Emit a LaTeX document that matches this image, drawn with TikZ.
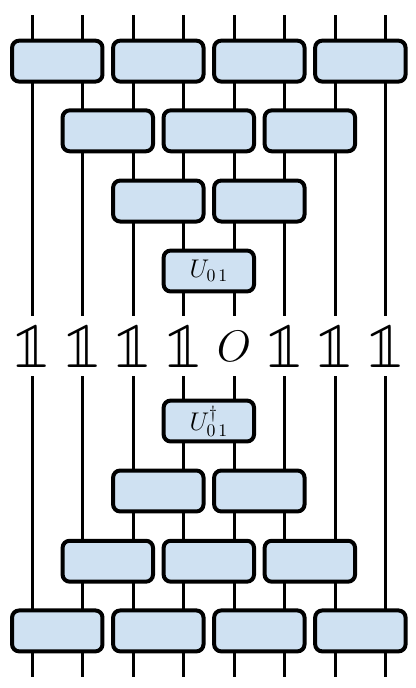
\documentclass[tikz,border=0pt]{standalone}
\usepackage{fontspec}
\newfontfamily\lmmath{latinmodern-math.otf}
\definecolor{gatefill}{RGB}{207,225,242}
\newcommand{\idop}{\mbox{\fontsize{37}{40}\lmmath 𝟙}}

\begin{document}
\begin{tikzpicture}
[-,line width=1.7pt,%
  gate/.style={shape=rectangle,rounded corners=0.14cm,draw,line width=2.25pt,%
    fill=gatefill,minimum width=1.79cm,minimum height=0.81cm,inner sep=0pt,%
    font=\fontsize{14.5}{17}\selectfont},%
  op/.style={inner sep=0pt,minimum height=1.14cm,font=\fontsize{26}{30}\selectfont}]
\useasboundingbox (-0.634,-6.77) rectangle (7.584,6.85);
% operators between the two halves
\foreach \k/\o in {0/\idop,1/\idop,2/\idop,3/\idop,4/O,5/\idop,6/\idop,7/\idop}
  \node[op] (op\k) at (\k,0) {$\o$};
% wires
\foreach \k in {0,...,7} {
  \coordinate (top\k) at (\k,6.55);
  \coordinate (bot\k) at (\k,-6.55);
  \draw (top\k) -- (op\k.north);
  \draw (op\k.south) -- (bot\k);
}
% upper half: U
\foreach \x/\n in {0.5/a,2.5/b,4.5/c,6.5/d} \node[gate] (up1\n) at (\x,5.64) {};
\foreach \x/\n in {1.5/a,3.5/b,5.5/c} \node[gate] (up2\n) at (\x,4.26) {};
\foreach \x/\n in {2.5/a,4.5/b} \node[gate] (up3\n) at (\x,2.87) {};
\node[gate] (u01) at (3.5,1.485) {$U_{0\,1}$};
% lower half: U dagger
\node[gate] (ud01) at (3.5,-1.485) {$U^{\dagger}_{0\,1}$};
\foreach \x/\n in {2.5/a,4.5/b} \node[gate] (lo3\n) at (\x,-2.87) {};
\foreach \x/\n in {1.5/a,3.5/b,5.5/c} \node[gate] (lo2\n) at (\x,-4.26) {};
\foreach \x/\n in {0.5/a,2.5/b,4.5/c,6.5/d} \node[gate] (lo1\n) at (\x,-5.64) {};
\end{tikzpicture}
\end{document}
